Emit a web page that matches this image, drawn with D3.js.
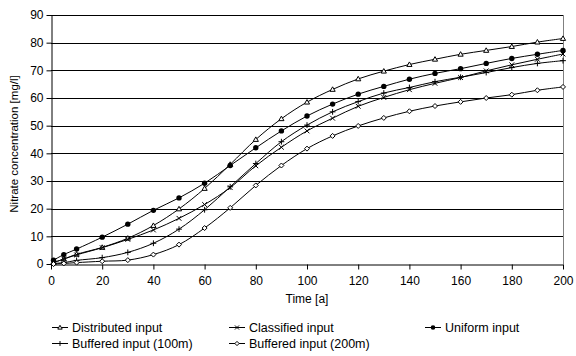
<!DOCTYPE html>
<html>
<head>
<meta charset="utf-8">
<script src="https://cdn.jsdelivr.net/npm/d3@7"></script>
<style>
  html, body { margin: 0; padding: 0; background: #fff; }
  svg { display: block; font-family: "Liberation Sans", Arial, sans-serif; }
</style>
</head>
<body>
<svg id="chart" width="576" height="356"></svg>
<script>
// Time after start of input [a]
const years = [1, 5, 10, 20, 30, 40, 50, 60, 70, 80, 90, 100, 110, 120, 130, 140, 150, 160, 170, 180, 190, 200];

// Nitrate concentration [mg/l] per scenario
const distributed = [0.5, 1.8, 3.5, 6.0, 9.3, 13.9, 19.9, 27.3, 36.0, 45.0, 52.5, 58.5, 63.1, 66.9, 69.7, 72.1, 74.0, 75.8, 77.2, 78.6, 80.2, 81.5];
const classified  = [0.5, 1.8, 3.3, 5.9, 8.9, 12.3, 16.5, 21.5, 27.6, 35.5, 42.2, 48.1, 52.7, 57.0, 60.2, 63.0, 65.3, 67.4, 69.8, 72.0, 74.0, 75.9];
const uniform     = [1.4, 3.4, 5.4, 9.7, 14.4, 19.4, 23.9, 29.2, 35.6, 42.0, 48.1, 53.5, 57.8, 61.4, 64.2, 66.8, 68.9, 70.6, 72.5, 74.3, 75.8, 77.2];
const buffered100 = [0.2, 0.5, 1.3, 2.3, 4.2, 7.5, 12.6, 19.6, 27.9, 36.3, 44.2, 50.2, 55.0, 58.7, 61.8, 63.8, 65.9, 67.5, 69.2, 71.0, 72.5, 73.5];
const buffered200 = [0.0, 0.2, 0.5, 1.0, 1.4, 3.4, 7.0, 13.0, 20.3, 28.4, 35.6, 41.7, 46.3, 49.9, 52.8, 55.2, 57.1, 58.6, 60.0, 61.2, 62.8, 64.0];

const seriesNames = ["Distributed input", "Classified input", "Uniform input", "Buffered input (100m)", "Buffered input (200m)"];
const seriesValues = [distributed, classified, uniform, buffered100, buffered200];
const markerTypes = ["triangle", "cross", "dot", "plus", "diamond"];

const xTicks = [0, 20, 40, 60, 80, 100, 120, 140, 160, 180, 200];
const yTicks = [0, 10, 20, 30, 40, 50, 60, 70, 80, 90];

const svg = d3.select("#chart");
const plot = { left: 51, right: 563, top: 15, bottom: 264 };

const x = d3.scaleLinear().domain([0, 200]).range([plot.left, plot.right]);
const y = d3.scaleLinear().domain([0, 90]).range([plot.bottom, plot.top]);

// horizontal gridlines
svg.append("g")
  .selectAll("line")
  .data(yTicks.filter(d => d > 0))
  .join("line")
  .attr("x1", plot.left).attr("x2", plot.right)
  .attr("y1", d => Math.round(y(d)) + 0.5).attr("y2", d => Math.round(y(d)) + 0.5)
  .attr("stroke", "#000").attr("stroke-width", 1);

// right edge of the plot area
svg.append("line")
  .attr("x1", plot.right + 0.5).attr("x2", plot.right + 0.5)
  .attr("y1", plot.top).attr("y2", plot.bottom)
  .attr("stroke", "#808080").attr("stroke-width", 1);

// axes
const tickFont = 12;
const yAxis = svg.append("g")
  .attr("transform", `translate(${plot.left + 0.5},0)`)
  .call(d3.axisLeft(y).tickValues(yTicks).tickSize(5).tickPadding(3).tickSizeOuter(0));
const xAxis = svg.append("g")
  .attr("transform", `translate(0,${plot.bottom + 0.5})`)
  .call(d3.axisBottom(x).tickValues(xTicks).tickSize(5).tickPadding(7).tickSizeOuter(0));
[xAxis, yAxis].forEach(g => {
  g.selectAll("path.domain").attr("stroke", "#000");
  g.selectAll(".tick line").attr("stroke", "#000");
  g.selectAll("text").attr("font-size", tickFont).attr("fill", "#000")
    .attr("font-family", "Liberation Sans, Arial, sans-serif");
});

// axis titles
svg.append("text")
  .attr("x", (plot.left + plot.right) / 2).attr("y", 303)
  .attr("text-anchor", "middle").attr("font-size", 12)
  .text("Time [a]");
svg.append("text")
  .attr("transform", `translate(18,144) rotate(-90)`)
  .attr("text-anchor", "middle").attr("font-size", 11.5)
  .text("Nitrate concentration [mg/l]");

// marker drawing
function drawMarker(g, type, s) {
  switch (type) {
    case "triangle":
      g.append("path").attr("d", `M0,${-2.6 * s}L${2.6 * s},${1.9 * s}L${-2.6 * s},${1.9 * s}Z`)
        .attr("fill", "#fff").attr("stroke", "#000").attr("stroke-width", 1);
      break;
    case "cross":
      g.append("path").attr("d", `M${-2.4 * s},${-2.4 * s}L${2.4 * s},${2.4 * s}M${-2.4 * s},${2.4 * s}L${2.4 * s},${-2.4 * s}`)
        .attr("stroke", "#000").attr("stroke-width", 1);
      break;
    case "dot":
      g.append("circle").attr("r", 2.7 * s).attr("fill", "#000");
      break;
    case "plus":
      g.append("path").attr("d", `M${-2.9 * s},0L${2.9 * s},0M0,${-2.9 * s}L0,${2.9 * s}`)
        .attr("stroke", "#000").attr("stroke-width", 1);
      break;
    case "diamond":
      g.append("path").attr("d", `M0,${-2.5 * s}L${2.5 * s},0L0,${2.5 * s}L${-2.5 * s},0Z`)
        .attr("fill", "#fff").attr("stroke", "#000").attr("stroke-width", 1);
      break;
  }
}

const line = d3.line()
  .x(d => x(d[0])).y(d => y(d[1]))
  .curve(d3.curveCatmullRom.alpha(0.5));

seriesValues.forEach((vals, i) => {
  const pts = years.map((t, j) => [t, vals[j]]);
  svg.append("path")
    .datum(pts)
    .attr("d", line)
    .attr("fill", "none").attr("stroke", "#000").attr("stroke-width", 1);
  const mg = svg.append("g");
  pts.forEach(p => {
    const g = mg.append("g").attr("transform", `translate(${x(p[0])},${y(p[1])})`);
    drawMarker(g, markerTypes[i], 1);
  });
});

// legend
const legendPos = [[52, 327], [229, 327], [425, 327], [52, 343], [229, 343]];
seriesNames.forEach((name, i) => {
  const [lx, ly] = legendPos[i];
  const g = svg.append("g").attr("transform", `translate(${lx},${ly})`);
  g.append("line").attr("x1", 0).attr("x2", 16).attr("y1", 0.5).attr("y2", 0.5)
    .attr("stroke", "#000").attr("stroke-width", 1);
  const m = g.append("g").attr("transform", "translate(8,0.5)");
  drawMarker(m, markerTypes[i], 0.85);
  g.append("text").attr("x", 20).attr("y", 0).attr("dy", "0.36em")
    .attr("font-size", 12.5).text(name);
});
</script>
</body>
</html>
